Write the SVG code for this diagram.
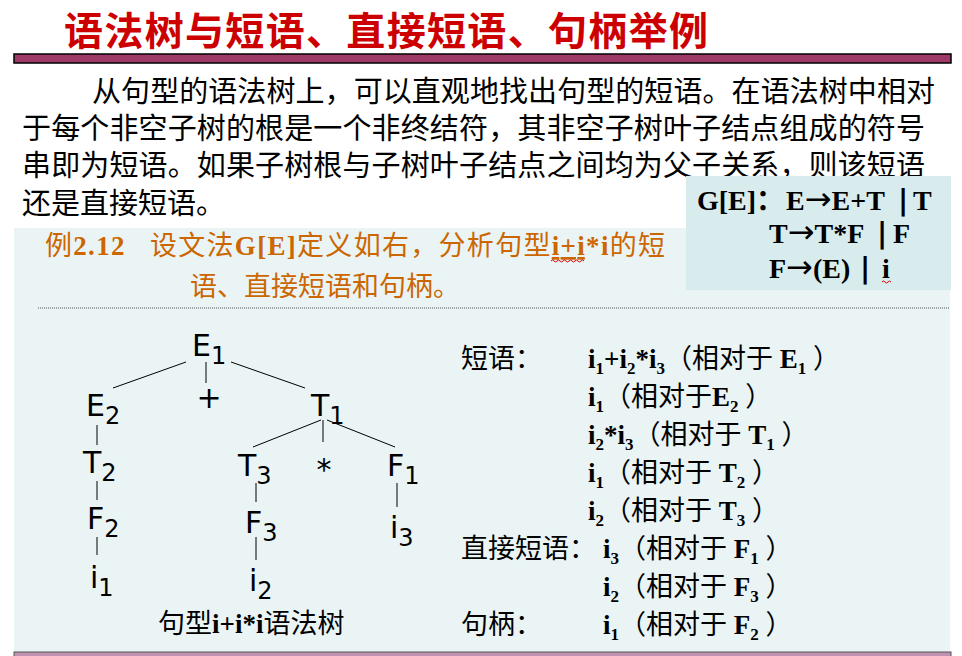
<svg xmlns="http://www.w3.org/2000/svg" width="962" height="656" viewBox="0 0 962 656">
<style>
.cjk{font-family:"Noto Sans CJK SC",sans-serif}
.title{font-family:"Noto Sans CJK SC",sans-serif;font-size:39px;font-weight:bold;fill:#CC0000}
.para{font-family:"Liberation Serif","Noto Sans CJK SC",serif;font-size:29px;fill:#000}
.ex{font-family:"Liberation Serif","Noto Sans CJK SC",serif;font-size:27px;fill:#CC6600}
.ge{font-family:"Liberation Serif","Noto Sans CJK SC",serif;font-size:28px;font-weight:bold;fill:#000}
.bar{font-family:"DejaVu Sans",sans-serif;font-weight:bold;font-size:28px}
.arr{font-family:"DejaVu Sans",sans-serif;font-weight:normal;font-size:32px}
.r{font-family:"Liberation Serif","Noto Sans CJK SC",serif;font-size:27px;fill:#000}
.b{font-weight:bold}
.s{font-size:17px}
.t{font-family:"DejaVu Sans",sans-serif;font-size:30px;fill:#000}
.ts{font-size:24px}
.edge{stroke:#000;stroke-width:1;fill:none}
.wavy{stroke:#E00000;stroke-width:1;fill:none}
</style>
<rect x="0" y="0" width="962" height="656" fill="#FFFFFF"/>
<!-- title -->
<g id="title">
<text class="title" x="64" y="45" textLength="644" lengthAdjust="spacing">语法树与短语、直接短语、句柄举例</text>
<rect x="14" y="54" width="937" height="9" fill="#9E3A68" stroke="#000" stroke-width="1.5"/>
</g>
<!-- intro paragraph -->
<g id="paragraph">
<text class="para" x="92" y="102" textLength="843" lengthAdjust="spacing">从句型的语法树上，可以直观地找出句型的短语。在语法树中相对</text>
<text class="para" x="22" y="139" textLength="903" lengthAdjust="spacing">于每个非空子树的根是一个非终结符，其非空子树叶子结点组成的符号</text>
<text class="para" x="22" y="176" textLength="903" lengthAdjust="spacing">串即为短语。如果子树根与子树叶子结点之间均为父子关系，则该短语</text>
<text class="para" x="22" y="214">还是直接短语。</text>
</g>
<!-- light panel -->
<rect x="14" y="228" width="936" height="424" fill="#EAF4F5"/>
<rect x="14" y="652" width="937" height="8" fill="#C092B2" stroke="#555" stroke-width="1"/>
<!-- grammar box -->
<g id="grammar">
<rect x="686" y="176" width="265" height="114" fill="#D8ECEE"/>
<text class="ge" y="210"><tspan x="697">G[E]：</tspan><tspan x="786">E</tspan><tspan class="arr">→</tspan><tspan>E+T</tspan><tspan x="898" class="bar">|</tspan><tspan x="913">T</tspan></text>
<text class="ge" y="243"><tspan x="769">T</tspan><tspan class="arr">→</tspan><tspan>T*F</tspan><tspan x="877" class="bar">|</tspan><tspan x="893">F</tspan></text>
<text class="ge" y="278"><tspan x="769">F</tspan><tspan class="arr">→</tspan><tspan>(E)</tspan><tspan x="860" class="bar">|</tspan><tspan x="882">i</tspan></text>
<path class="wavy" d="M882 282 q1.5 -2 3 0 t3 0 t3 0"/>
</g>
<!-- example statement -->
<g id="example">
<text class="ex" x="45" y="255" xml:space="preserve" textLength="620" lengthAdjust="spacing">例<tspan class="b">2.12</tspan>   设文法<tspan class="b">G[E]</tspan>定义如右，分析句型<tspan class="b" text-decoration="underline">i+i</tspan><tspan class="b">*i</tspan>的短</text>
<path class="wavy" d="M551 261 q1.5 -2 3 0 t3 0 t3 0 t3 0 t3 0 t3 0 t3 0 t3 0 t3 0 t3 0 t3 0"/>
<text class="ex" x="190" y="296">语、直接短语和句柄。</text>
<line x1="38" y1="308" x2="950" y2="308" stroke="#555" stroke-width="1" stroke-dasharray="1,1"/>
</g>
<!-- connectors -->
<g id="connectors">
<line class="edge" x1="186" y1="362" x2="113" y2="388"/>
<line class="edge" x1="206" y1="362" x2="206" y2="383"/>
<line class="edge" x1="231" y1="362" x2="305" y2="388"/>
<line class="edge" x1="97" y1="425" x2="97" y2="445"/>
<line class="edge" x1="97" y1="481" x2="97" y2="500"/>
<line class="edge" x1="97" y1="537" x2="97" y2="555"/>
<line class="edge" x1="321" y1="420" x2="253" y2="447"/>
<line class="edge" x1="323" y1="420" x2="323" y2="442"/>
<line class="edge" x1="327" y1="420" x2="395" y2="447"/>
<line class="edge" x1="256" y1="483" x2="256" y2="502"/>
<line class="edge" x1="256" y1="537" x2="256" y2="560"/>
<line class="edge" x1="397" y1="483" x2="397" y2="507"/>
</g>
<!-- tree nodes -->
<g id="E1"><text class="t" x="192" y="356">E<tspan class="ts" dy="8">1</tspan></text></g>
<g id="plus"><text class="t" x="209" y="408" text-anchor="middle">+</text></g>
<g id="T1"><text class="t" x="311" y="416">T<tspan class="ts" dy="8">1</tspan></text></g>
<g id="E2"><text class="t" x="86" y="416">E<tspan class="ts" dy="8">2</tspan></text></g>
<g id="T2"><text class="t" x="83" y="473">T<tspan class="ts" dy="8">2</tspan></text></g>
<g id="F2"><text class="t" x="87" y="529">F<tspan class="ts" dy="8">2</tspan></text></g>
<g id="i1"><text class="t" x="90" y="588">i<tspan class="ts" dy="8">1</tspan></text></g>
<g id="T3"><text class="t" x="238" y="476">T<tspan class="ts" dy="8">3</tspan></text></g>
<g id="star"><text class="t" x="324" y="480" text-anchor="middle">*</text></g>
<g id="F1"><text class="t" x="387" y="476">F<tspan class="ts" dy="8">1</tspan></text></g>
<g id="F3"><text class="t" x="245" y="533">F<tspan class="ts" dy="8">3</tspan></text></g>
<g id="i2"><text class="t" x="249" y="591">i<tspan class="ts" dy="8">2</tspan></text></g>
<g id="i3"><text class="t" x="390" y="538">i<tspan class="ts" dy="8">3</tspan></text></g>
<g id="caption"><text class="r" x="158" y="633">句型<tspan class="b">i+i*i</tspan>语法树</text></g>
<!-- phrase list -->
<g id="phrases">
<text class="r" x="461" y="368" font-size="26">短语：</text>
<text class="r" x="588" y="368" xml:space="preserve"><tspan class="b">i</tspan><tspan class="b s" dy="6">1</tspan><tspan class="b" dy="-6">+i</tspan><tspan class="b s" dy="6">2</tspan><tspan class="b" dy="-6">*i</tspan><tspan class="b s" dy="6">3</tspan><tspan dy="-6">（相对于 </tspan><tspan class="b">E</tspan><tspan class="b s" dy="6">1</tspan><tspan dy="-6"> ）</tspan></text>
<text class="r" x="588" y="406" xml:space="preserve"><tspan class="b">i</tspan><tspan class="b s" dy="6">1</tspan><tspan dy="-6">（相对于</tspan><tspan class="b">E</tspan><tspan class="b s" dy="6">2</tspan><tspan dy="-6"> ）</tspan></text>
<text class="r" x="588" y="444" xml:space="preserve"><tspan class="b">i</tspan><tspan class="b s" dy="6">2</tspan><tspan class="b" dy="-6">*i</tspan><tspan class="b s" dy="6">3</tspan><tspan dy="-6">（相对于 </tspan><tspan class="b">T</tspan><tspan class="b s" dy="6">1</tspan><tspan dy="-6"> ）</tspan></text>
<text class="r" x="588" y="482" xml:space="preserve"><tspan class="b">i</tspan><tspan class="b s" dy="6">1</tspan><tspan dy="-6">（相对于 </tspan><tspan class="b">T</tspan><tspan class="b s" dy="6">2</tspan><tspan dy="-6"> ）</tspan></text>
<text class="r" x="588" y="520" xml:space="preserve"><tspan class="b">i</tspan><tspan class="b s" dy="6">2</tspan><tspan dy="-6">（相对于 </tspan><tspan class="b">T</tspan><tspan class="b s" dy="6">3</tspan><tspan dy="-6"> ）</tspan></text>
<text class="r" x="461" y="558" font-size="26">直接短语：</text>
<text class="r" x="603" y="558" xml:space="preserve"><tspan class="b">i</tspan><tspan class="b s" dy="6">3</tspan><tspan dy="-6">（相对于 </tspan><tspan class="b">F</tspan><tspan class="b s" dy="6">1</tspan><tspan dy="-6"> ）</tspan></text>
<text class="r" x="603" y="596" xml:space="preserve"><tspan class="b">i</tspan><tspan class="b s" dy="6">2</tspan><tspan dy="-6">（相对于 </tspan><tspan class="b">F</tspan><tspan class="b s" dy="6">3</tspan><tspan dy="-6"> ）</tspan></text>
<text class="r" x="461" y="634" font-size="26">句柄：</text>
<text class="r" x="603" y="634" xml:space="preserve"><tspan class="b">i</tspan><tspan class="b s" dy="6">1</tspan><tspan dy="-6">（相对于 </tspan><tspan class="b">F</tspan><tspan class="b s" dy="6">2</tspan><tspan dy="-6"> ）</tspan></text>
</g>
</svg>
